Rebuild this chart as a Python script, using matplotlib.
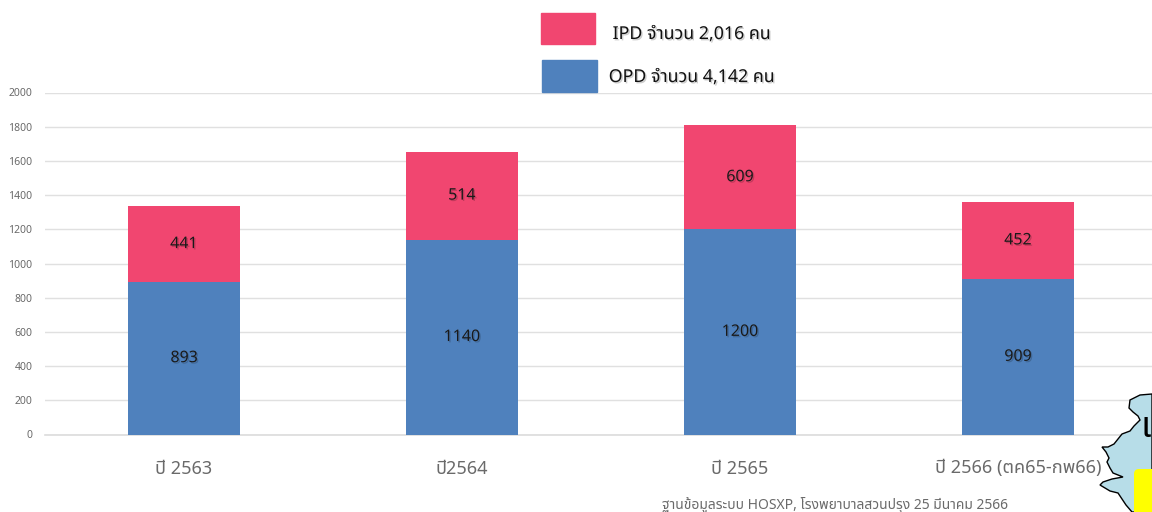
import matplotlib
matplotlib.use("Agg")
import matplotlib.pyplot as plt
from matplotlib.patches import Polygon, Rectangle, FancyBboxPatch
import matplotlib.patheffects as pe
import numpy as np

years = ["ปี 2563", "ปี2564", "ปี 2565", "ปี 2566 (ตค65-กพ66)"]
opd = [893, 1140, 1200, 909]
ipd = [441, 514, 609, 452]
yticks = list(range(0, 2001, 200))
legend_ipd = "IPD จำนวน 2,016 คน"
legend_opd = "OPD จำนวน 4,142 คน"
source_note = "ฐานข้อมูลระบบ HOSXP, โรงพยาบาลสวนปรุง 25 มีนาคม 2566"

# outline of the map corner, in picture pixels
map_outline = [(1152, 394), (1140, 395), (1130, 400), (1129, 408), (1133, 412), (1138, 416),
               (1140, 420), (1134, 426), (1130, 431), (1122, 434), (1118, 439), (1114, 444),
               (1108, 447), (1102, 447), (1106, 452), (1109, 458), (1107, 462), (1110, 468),
               (1113, 473), (1123, 477), (1112, 479), (1103, 482), (1100, 485), (1110, 491),
               (1118, 493), (1122, 499), (1126, 505), (1132, 512), (1152, 512)]

W, H = 1152, 512
blue = "#4f81bd"
pink = "#f14670"
plt.rcParams["font.family"] = ["Noto Sans Thai", "Tahoma", "Loma", "Garuda", "Noto Sans", "DejaVu Sans"]

fig = plt.figure(figsize=(W / 100, H / 100), dpi=100)
ax = fig.add_axes([45 / W, 1 - 434.5 / H, 1112 / W, 342 / H])
ax.set_xlim(-0.5, 3.5)
ax.set_ylim(0, 2000)

x = np.arange(len(years))
ax.bar(x, opd, width=0.403, color=blue, zorder=3)
ax.bar(x, ipd, width=0.403, bottom=opd, color=pink, zorder=3)

# soft shadow behind the texts, as in the picture
shadow = [pe.withSimplePatchShadow(offset=(1, -1), alpha=0.2)]
for i in range(len(years)):
    ax.text(x[i], opd[i] / 2, str(opd[i]), ha="center", va="center", fontsize=11.5,
            color="#1a1a1a", zorder=4, path_effects=shadow)
    ax.text(x[i], opd[i] + ipd[i] / 2, str(ipd[i]), ha="center", va="center", fontsize=11.5,
            color="#1a1a1a", zorder=4, path_effects=shadow)

ax.set_yticks(yticks)
ax.set_xticks(x)
ax.set_xticklabels(years, fontsize=13, color="#6a6a6a")
ax.tick_params(axis="y", length=0, labelsize=7.5, labelcolor="#6a6a6a", pad=9)
ax.tick_params(axis="x", length=0, pad=18)
ax.grid(axis="y", color="#e0e0e0", linewidth=1, zorder=0)
for s in ["top", "right", "left"]:
    ax.spines[s].set_visible(False)
ax.spines["bottom"].set_color("#dcdcdc")
ax.spines["bottom"].set_linewidth(1.2)

# overlay in pixel coordinates for the legend, note and map
ov = fig.add_axes([0, 0, 1, 1], facecolor="none")
ov.set_xlim(0, W)
ov.set_ylim(H, 0)
ov.axis("off")
ov.add_patch(Rectangle((541, 13), 54, 31, color=pink, zorder=5))
ov.add_patch(Rectangle((542, 60), 55, 32, color=blue, zorder=5))
ov.text(692, 34, legend_ipd, ha="center", va="center", fontsize=12.8, color="#111111", path_effects=shadow)
ov.text(692, 77, legend_opd, ha="center", va="center", fontsize=12.8, color="#111111", path_effects=shadow)
ov.text(835, 505, source_note, ha="center", va="center", fontsize=10, color="#6a6a6a")
ov.add_patch(Polygon(map_outline, closed=True, facecolor="#b7dde8", edgecolor="black", linewidth=1, zorder=6))
ov.add_patch(FancyBboxPatch((1134, 469), 24, 55, boxstyle="round,pad=0,rounding_size=5",
                            facecolor="#ffff00", edgecolor="none", zorder=7))
ov.text(1140, 428, "เ", ha="left", va="center", fontsize=26, color="black", zorder=8)

fig.savefig("out.png", dpi=100)
